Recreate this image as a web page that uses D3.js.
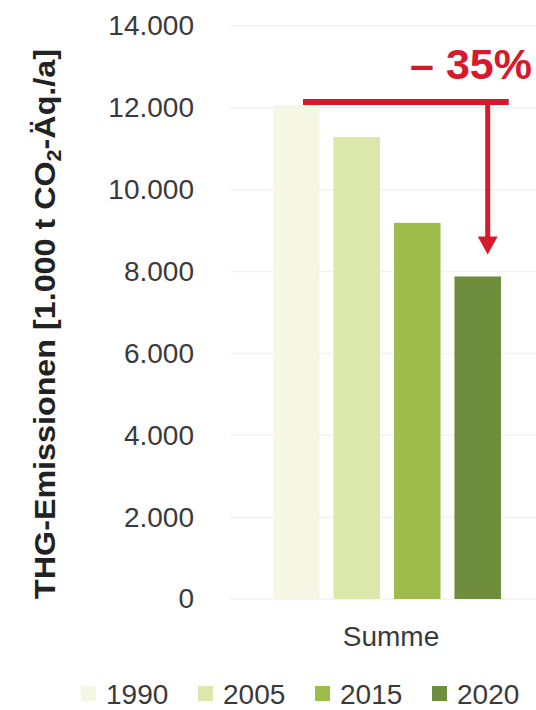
<!DOCTYPE html>
<html>
<head>
<meta charset="utf-8">
<script src="https://cdn.jsdelivr.net/npm/d3@7"></script>
<style>
  html, body { margin: 0; padding: 0; background: #fff; }
  svg { display: block; font-family: "Liberation Sans", Arial, sans-serif; }
</style>
</head>
<body>
<svg id="chart" width="536" height="710"></svg>
<script>
// Greenhouse-gas emissions, total ("Summe"), in 1,000 t CO2-eq per year
const categories = ["Summe"];
const years = ["1990", "2005", "2015", "2020"];
const emissions = [12070, 11290, 9190, 7880];
const yTicks = [0, 2000, 4000, 6000, 8000, 10000, 12000, 14000];
const colors = ["#f5f7e4", "#dce8ab", "#9dbc4b", "#6f8e3d"];

const svg = d3.select("#chart");

const y = d3.scaleLinear().domain([0, 14000]).range([599, 26]);
const x0 = d3.scaleBand().domain(categories).range([273, 501]).padding(0);
const x1 = d3.scaleBand().domain(years).range([0, x0.bandwidth()]).paddingInner(0.23).paddingOuter(0);
const color = d3.scaleOrdinal().domain(years).range(colors);

const fmt = v => d3.format(",")(v).replace(/,/g, ".");

// horizontal gridlines
svg.append("g")
  .selectAll("line")
  .data(yTicks)
  .join("line")
  .attr("x1", 230).attr("x2", 536)
  .attr("y1", d => y(d)).attr("y2", d => y(d))
  .attr("stroke", "#f2f2f2").attr("stroke-width", 1.5);

// y axis labels
const yAxis = d3.axisLeft(y).tickValues(yTicks).tickFormat(fmt).tickSize(0).tickPadding(0);
const gy = svg.append("g").attr("transform", "translate(194,0)").call(yAxis);
gy.select(".domain").remove();
gy.selectAll("text")
  .attr("font-size", 28)
  .attr("font-family", "'Liberation Sans', Arial, sans-serif")
  .attr("fill", "#3a3a3a");

// y axis title
const title = svg.append("text")
  .attr("transform", "translate(44,324) rotate(-90)")
  .attr("text-anchor", "middle")
  .attr("dy", "0.35em")
  .attr("font-size", 30)
  .attr("font-weight", "bold")
  .attr("fill", "#222")
  .attr("textLength", 550)
  .attr("lengthAdjust", "spacingAndGlyphs");
title.append("tspan").text("THG-Emissionen [1.000 t CO");
title.append("tspan").text("2").attr("font-size", 20).attr("dy", "0.3em");
title.append("tspan").text("-Äq./a]").attr("dy", "-0.2em");

// bars
const data = years.map((yr, i) => ({ cat: categories[0], year: yr, value: emissions[i] }));
svg.append("g")
  .selectAll("rect")
  .data(data)
  .join("rect")
  .attr("x", d => x0(d.cat) + x1(d.year))
  .attr("width", x1.bandwidth())
  .attr("y", d => y(d.value))
  .attr("height", d => y(0) - y(d.value))
  .attr("fill", d => color(d.year));

// category label
const xAxis = d3.axisBottom(x0).tickSize(0).tickPadding(0);
const gx = svg.append("g").attr("transform", "translate(4,636)").call(xAxis);
gx.select(".domain").remove();
gx.selectAll("text")
  .attr("font-size", 28)
  .attr("font-family", "'Liberation Sans', Arial, sans-serif")
  .attr("fill", "#3a3a3a")
  .attr("dy", "0.35em");

// reduction arrow from the 1990 level down to 2020
const red = "#d6192b";
const v0 = emissions[0], v1 = emissions[emissions.length - 1];
const lineY = y(v0) - 3;
const arrowX = x0(categories[0]) + x1(years[3]) + x1.bandwidth() / 2 + 10;
const tipY = y(v1) - 22;
svg.append("line")
  .attr("x1", x0(categories[0]) + 30).attr("x2", arrowX + 21)
  .attr("y1", lineY).attr("y2", lineY)
  .attr("stroke", red).attr("stroke-width", 6);
svg.append("line")
  .attr("x1", arrowX).attr("x2", arrowX)
  .attr("y1", lineY).attr("y2", tipY - 14)
  .attr("stroke", red).attr("stroke-width", 5);
svg.append("path")
  .attr("d", `M${arrowX - 10},${tipY - 18} L${arrowX + 10},${tipY - 18} L${arrowX},${tipY} Z`)
  .attr("fill", red);

const pct = Math.round((1 - v1 / v0) * 100);
svg.append("text")
  .attr("x", 532).attr("y", 79)
  .attr("text-anchor", "end")
  .attr("font-size", 43)
  .attr("font-weight", "bold")
  .attr("fill", red)
  .text(`– ${pct}%`);

// legend
const legend = svg.append("g")
  .selectAll("g")
  .data(years)
  .join("g")
  .attr("transform", (d, i) => `translate(${81 + i * 117},686)`);
legend.append("rect")
  .attr("width", 15).attr("height", 15)
  .attr("fill", d => color(d));
legend.append("text")
  .attr("x", 25).attr("y", 7.5)
  .attr("dy", "0.36em")
  .attr("font-size", 28)
  .attr("fill", "#3a3a3a")
  .text(d => d);
</script>
</body>
</html>
